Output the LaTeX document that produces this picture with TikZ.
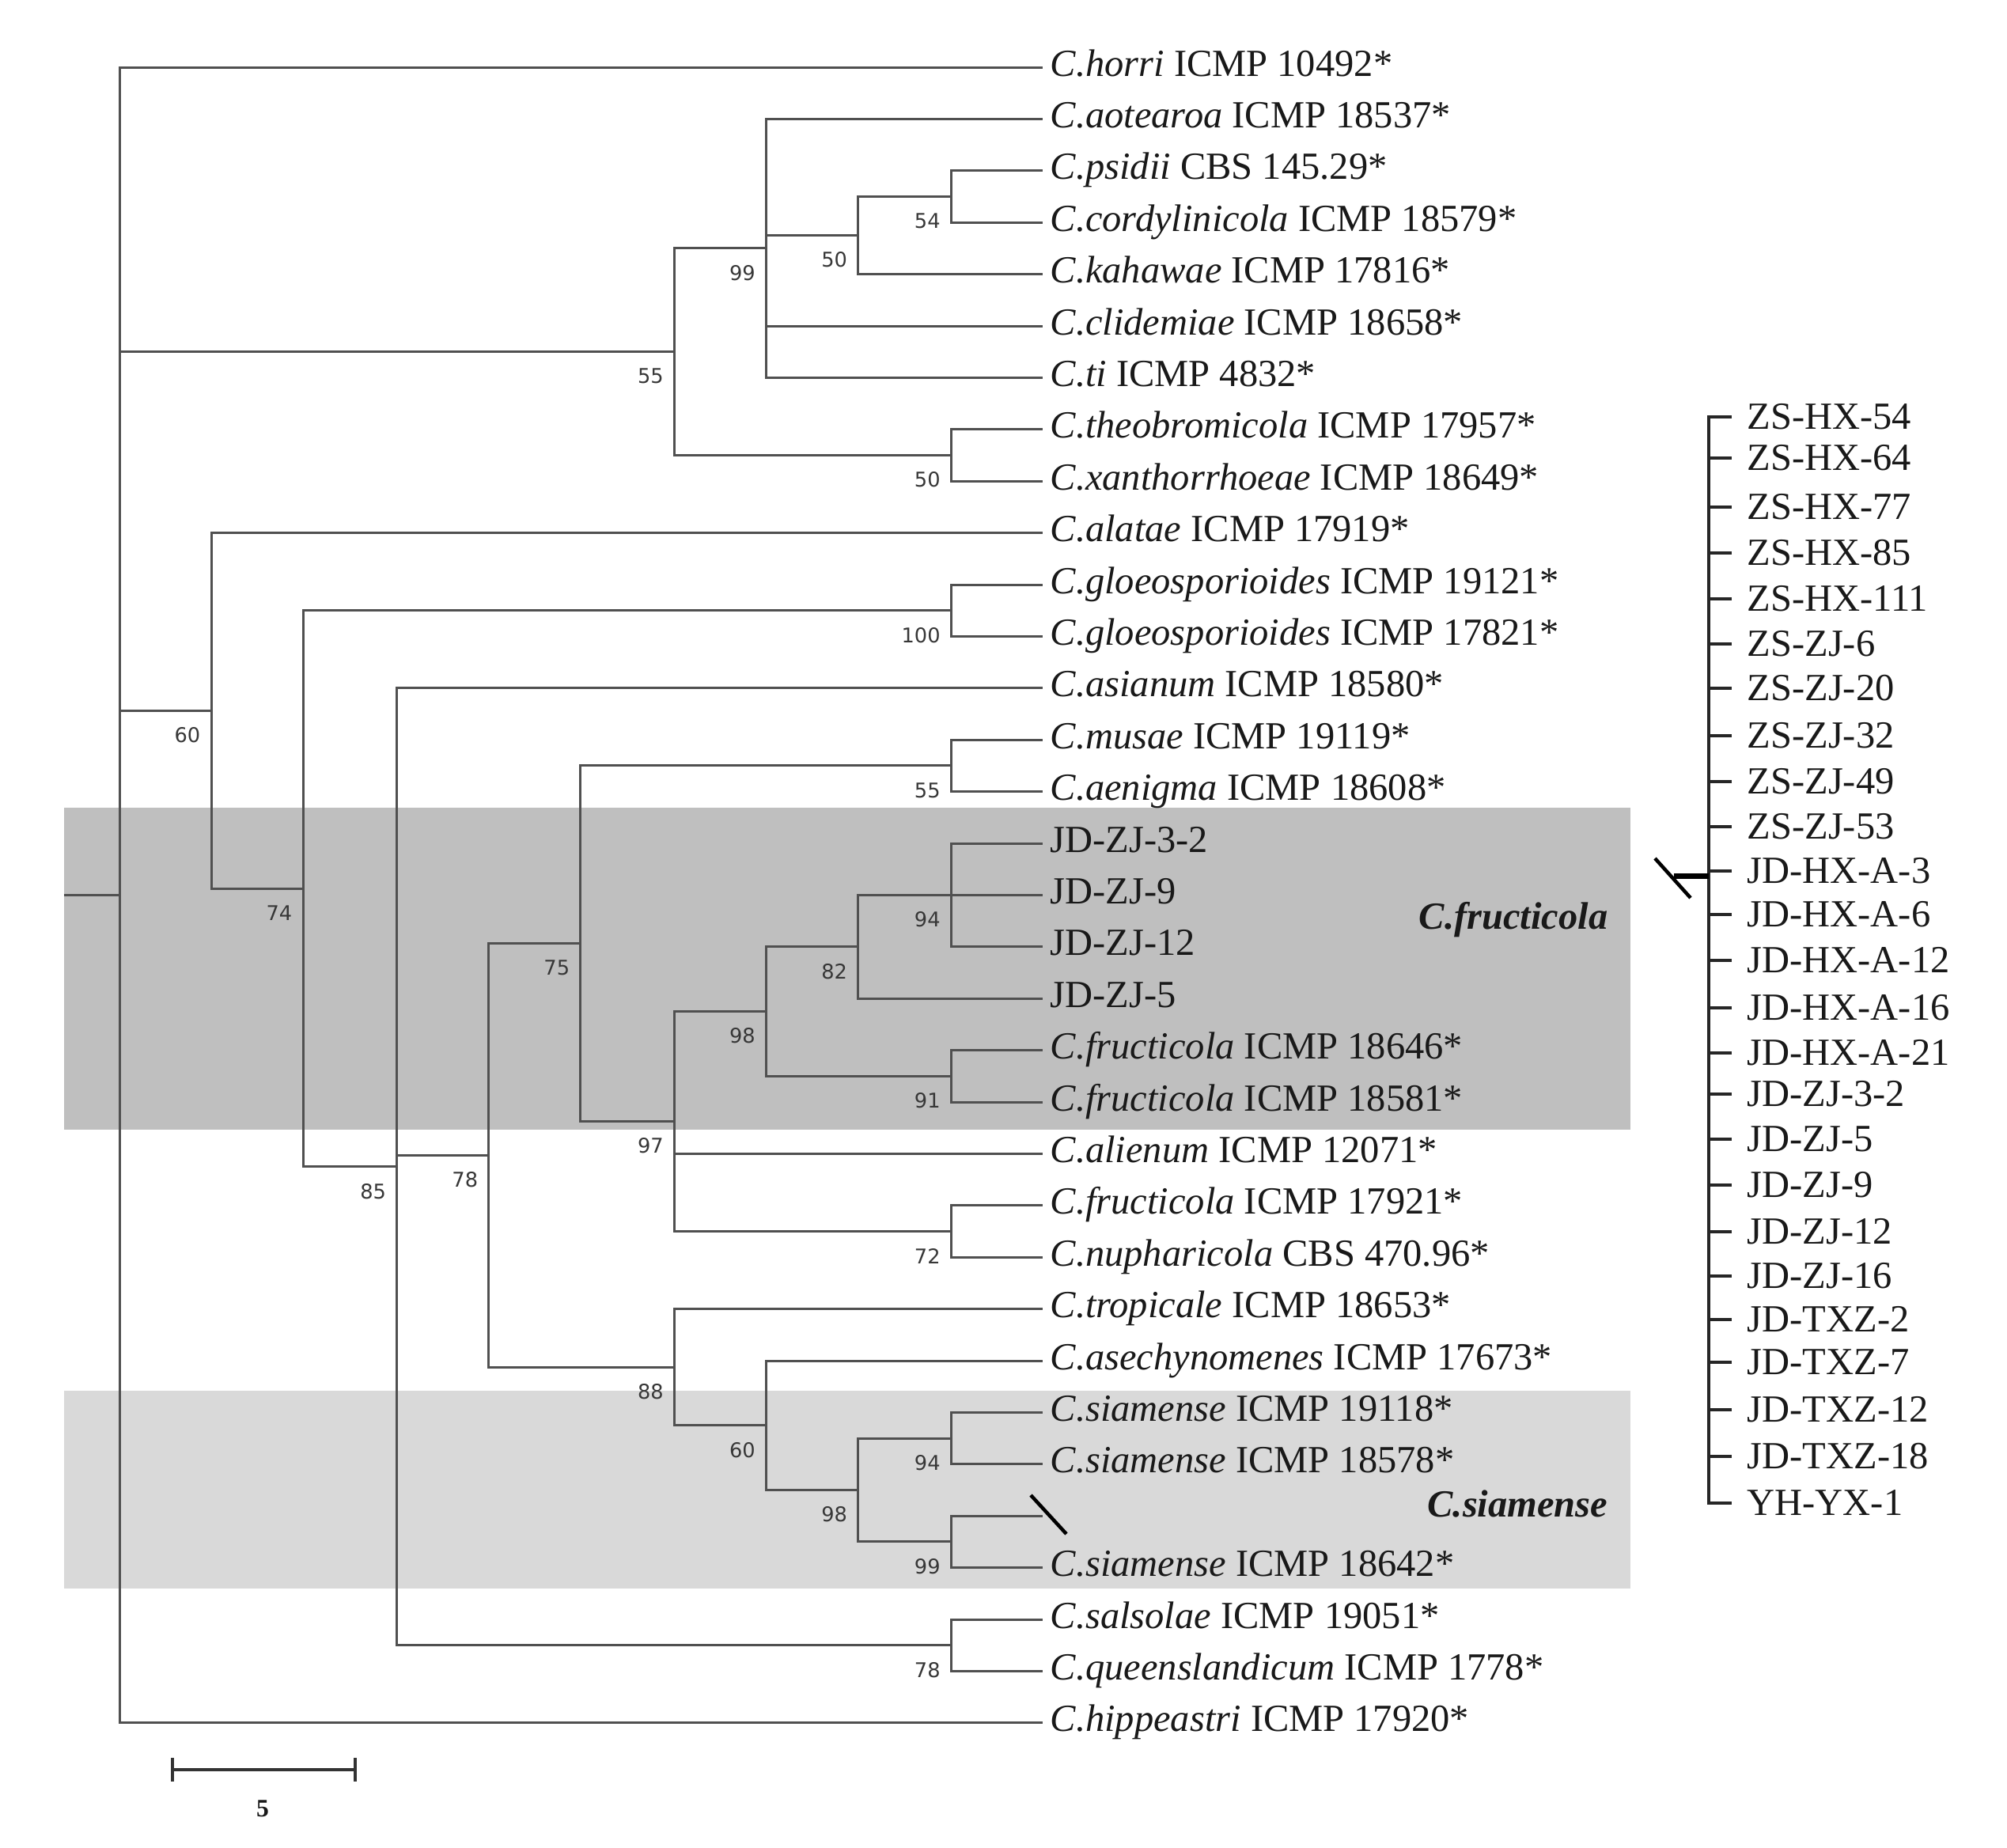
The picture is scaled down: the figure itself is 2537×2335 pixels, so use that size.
\documentclass[tikz,border=0pt]{standalone}
\usepackage{fontspec}
\setmainfont{Liberation Serif}
\newfontfamily\bsfont{DejaVu Sans}
\usetikzlibrary{calc}
\definecolor{treeline}{RGB}{80,80,80}
\definecolor{boxA}{RGB}{191,191,191}
\definecolor{boxB}{RGB}{217,217,217}
\definecolor{bscol}{RGB}{55,55,55}
\definecolor{txt}{RGB}{25,25,25}
\begin{document}
\begin{tikzpicture}[x=0.1mm,y=-0.1mm,
  br/.style={draw=treeline, line width=0.3mm},
  leaf/.style={anchor=west, inner xsep=0.9mm, inner ysep=0, text=txt,
    font=\fontsize{13.8}{16}\selectfont, text height=3.4mm, text depth=1.2mm},
  rl/.style={anchor=west, inner xsep=1.9mm, inner ysep=0, text=txt,
    font=\fontsize{13.8}{16}\selectfont, text height=3.4mm, text depth=0.3mm},
  bs/.style={anchor=east, inner sep=0, text=bscol, font=\bsfont\fontsize{7.3}{8}\selectfont},
  clade/.style={anchor=east, inner sep=0, text=txt, font=\fontsize{13.8}{16}\selectfont\bfseries\itshape},
  spine/.style={draw=black!85, line width=0.34mm},
  cutmark/.style={draw=black, line width=0.45mm},
  scalebar/.style={draw=black!80, line width=0.45mm}
]
\useasboundingbox (0,0) rectangle (2537,2335);
\fill[white] (0,0) rectangle (2537,2335);

% shaded clade boxes
\fill[boxA] (81,1021) rectangle (2061,1428);
\fill[boxB] (81,1758) rectangle (2061,2008);

% internal nodes
\coordinate (rootend) at (81,1131.5);
\coordinate (root) at (151.7,1131.5);
\coordinate (n55) at (852.4,444.7);
\coordinate (n99) at (968.5,313.9);
\coordinate (n50a) at (1084.6,297.6);
\coordinate (n54) at (1202.3,248.5);
\coordinate (n50b) at (1202.3,575.5);
\coordinate (n60) at (267,898.4);
\coordinate (n74) at (383,1123.2);
\coordinate (n100) at (1202.3,771.7);
\coordinate (n85) at (501.7,1474.8);
\coordinate (n78a) at (617.8,1460.4);
\coordinate (n75) at (733.8,1192.7);
\coordinate (n55b) at (1202.3,967.9);
\coordinate (n97) at (852.4,1417.5);
\coordinate (n98a) at (968.5,1278.6);
\coordinate (n82) at (1084.6,1196.8);
\coordinate (n94a) at (1202.3,1131.4);
\coordinate (n91) at (1202.3,1360.3);
\coordinate (n72) at (1202.3,1556.5);
\coordinate (n88) at (852.4,1728.2);
\coordinate (n60b) at (968.5,1801.8);
\coordinate (n98b) at (1084.6,1883.5);
\coordinate (n94b) at (1202.3,1818.1);
\coordinate (n99b) at (1202.3,1948.9);
\coordinate (n78b) at (1202.3,2079.7);
\coordinate (L29) at (1318,1916.2);

% leaves
\node[leaf] (L1)  at (1318,85)     {\textit{C.horri} ICMP 10492*};
\node[leaf] (L2)  at (1318,150.4)  {\textit{C.aotearoa} ICMP 18537*};
\node[leaf] (L3)  at (1318,215.8)  {\textit{C.psidii} CBS 145.29*};
\node[leaf] (L4)  at (1318,281.2)  {\textit{C.cordylinicola} ICMP 18579*};
\node[leaf] (L5)  at (1318,346.6)  {\textit{C.kahawae} ICMP 17816*};
\node[leaf] (L6)  at (1318,412)    {\textit{C.clidemiae} ICMP 18658*};
\node[leaf] (L7)  at (1318,477.4)  {\textit{C.ti} ICMP 4832*};
\node[leaf] (L8)  at (1318,542.8)  {\textit{C.theobromicola} ICMP 17957*};
\node[leaf] (L9)  at (1318,608.2)  {\textit{C.xanthorrhoeae} ICMP 18649*};
\node[leaf] (L10) at (1318,673.6)  {\textit{C.alatae} ICMP 17919*};
\node[leaf] (L11) at (1318,739)    {\textit{C.gloeosporioides} ICMP 19121*};
\node[leaf] (L12) at (1318,804.4)  {\textit{C.gloeosporioides} ICMP 17821*};
\node[leaf] (L13) at (1318,869.8)  {\textit{C.asianum} ICMP 18580*};
\node[leaf] (L14) at (1318,935.2)  {\textit{C.musae} ICMP 19119*};
\node[leaf] (L15) at (1318,1000.6) {\textit{C.aenigma} ICMP 18608*};
\node[leaf] (L16) at (1318,1066)   {JD-ZJ-3-2};
\node[leaf] (L17) at (1318,1131.4) {JD-ZJ-9};
\node[leaf] (L18) at (1318,1196.8) {JD-ZJ-12};
\node[leaf] (L19) at (1318,1262.2) {JD-ZJ-5};
\node[leaf] (L20) at (1318,1327.6) {\textit{C.fructicola} ICMP 18646*};
\node[leaf] (L21) at (1318,1393)   {\textit{C.fructicola} ICMP 18581*};
\node[leaf] (L22) at (1318,1458.4) {\textit{C.alienum} ICMP 12071*};
\node[leaf] (L23) at (1318,1523.8) {\textit{C.fructicola} ICMP 17921*};
\node[leaf] (L24) at (1318,1589.2) {\textit{C.nupharicola} CBS 470.96*};
\node[leaf] (L25) at (1318,1654.6) {\textit{C.tropicale} ICMP 18653*};
\node[leaf] (L26) at (1318,1720)   {\textit{C.asechynomenes} ICMP 17673*};
\node[leaf] (L27) at (1318,1785.4) {\textit{C.siamense} ICMP 19118*};
\node[leaf] (L28) at (1318,1850.8) {\textit{C.siamense} ICMP 18578*};
\node[leaf] (L30) at (1318,1981.6) {\textit{C.siamense} ICMP 18642*};
\node[leaf] (L31) at (1318,2047)   {\textit{C.salsolae} ICMP 19051*};
\node[leaf] (L32) at (1318,2112.4) {\textit{C.queenslandicum} ICMP 1778*};
\node[leaf] (L33) at (1318,2177.8) {\textit{C.hippeastri} ICMP 17920*};

% branches
\draw[br] (rootend) -- (root);
\draw[br] (root) |- (L1.west);
\draw[br] (root) |- (n55);
\draw[br] (root) |- (n60);
\draw[br] (root) |- (L33.west);
\draw[br] (n55) |- (n99);
\draw[br] (n55) |- (n50b);
\draw[br] (n99) |- (L2.west);
\draw[br] (n99) |- (n50a);
\draw[br] (n99) |- (L6.west);
\draw[br] (n99) |- (L7.west);
\draw[br] (n50a) |- (n54);
\draw[br] (n50a) |- (L5.west);
\draw[br] (n54) |- (L3.west);
\draw[br] (n54) |- (L4.west);
\draw[br] (n50b) |- (L8.west);
\draw[br] (n50b) |- (L9.west);
\draw[br] (n60) |- (L10.west);
\draw[br] (n60) |- (n74);
\draw[br] (n74) |- (n100);
\draw[br] (n74) |- (n85);
\draw[br] (n100) |- (L11.west);
\draw[br] (n100) |- (L12.west);
\draw[br] (n85) |- (L13.west);
\draw[br] (n85) |- (n78a);
\draw[br] (n85) |- (n78b);
\draw[br] (n78a) |- (n75);
\draw[br] (n78a) |- (n88);
\draw[br] (n75) |- (n55b);
\draw[br] (n75) |- (n97);
\draw[br] (n55b) |- (L14.west);
\draw[br] (n55b) |- (L15.west);
\draw[br] (n97) |- (n98a);
\draw[br] (n97) |- (L22.west);
\draw[br] (n97) |- (n72);
\draw[br] (n98a) |- (n82);
\draw[br] (n98a) |- (n91);
\draw[br] (n82) |- (n94a);
\draw[br] (n82) |- (L19.west);
\draw[br] (n94a) |- (L16.west);
\draw[br] (n94a) |- (L17.west);
\draw[br] (n94a) |- (L18.west);
\draw[br] (n91) |- (L20.west);
\draw[br] (n91) |- (L21.west);
\draw[br] (n72) |- (L23.west);
\draw[br] (n72) |- (L24.west);
\draw[br] (n88) |- (L25.west);
\draw[br] (n88) |- (n60b);
\draw[br] (n60b) |- (L26.west);
\draw[br] (n60b) |- (n98b);
\draw[br] (n98b) |- (n94b);
\draw[br] (n98b) |- (n99b);
\draw[br] (n94b) |- (L27.west);
\draw[br] (n94b) |- (L28.west);
\draw[br] (n99b) |- (L29);
\draw[br] (n99b) |- (L30.west);
\draw[br] (n78b) |- (L31.west);
\draw[br] (n78b) |- (L32.west);

% cut mark on the empty branch
\coordinate (cutA) at (1303,1890);
\coordinate (cutB) at (1348,1939);
\draw[cutmark] (cutA) -- (cutB);

% bootstrap values
\node[bs] (b55)  at ($(n55)+(-13,31)$)  {55};
\node[bs] (b99)  at ($(n99)+(-13,31)$)  {99};
\node[bs] (b50a) at ($(n50a)+(-13,31)$) {50};
\node[bs] (b54)  at ($(n54)+(-13,31)$)  {54};
\node[bs] (b50b) at ($(n50b)+(-13,31)$) {50};
\node[bs] (b60)  at ($(n60)+(-13,31)$)  {60};
\node[bs] (b74)  at ($(n74)+(-13,31)$)  {74};
\node[bs] (b100) at ($(n100)+(-13,31)$) {100};
\node[bs] (b85)  at ($(n85)+(-13,31)$)  {85};
\node[bs] (b78a) at ($(n78a)+(-13,31)$) {78};
\node[bs] (b75)  at ($(n75)+(-13,31)$)  {75};
\node[bs] (b55b) at ($(n55b)+(-13,31)$) {55};
\node[bs] (b97)  at ($(n97)+(-13,31)$)  {97};
\node[bs] (b98a) at ($(n98a)+(-13,31)$) {98};
\node[bs] (b82)  at ($(n82)+(-13,31)$)  {82};
\node[bs] (b94a) at ($(n94a)+(-13,31)$) {94};
\node[bs] (b91)  at ($(n91)+(-13,31)$)  {91};
\node[bs] (b72)  at ($(n72)+(-13,31)$)  {72};
\node[bs] (b88)  at ($(n88)+(-13,31)$)  {88};
\node[bs] (b60b) at ($(n60b)+(-13,31)$) {60};
\node[bs] (b98b) at ($(n98b)+(-13,31)$) {98};
\node[bs] (b94b) at ($(n94b)+(-13,31)$) {94};
\node[bs] (b99b) at ($(n99b)+(-13,31)$) {99};
\node[bs] (b78b) at ($(n78b)+(-13,31)$) {78};

% clade names
\node[clade] (cfr) at (2033,1163) {C.fructicola};
\node[clade] (csi) at (2033,1901) {C.siamense};

% scale bar
\coordinate (sbL) at (218,2237);
\coordinate (sbR) at (449,2237);
\draw[scalebar] (sbL) -- (sbR);
\draw[scalebar] ($(sbL)+(0,-15)$) -- ($(sbL)+(0,15)$);
\draw[scalebar] ($(sbR)+(0,-15)$) -- ($(sbR)+(0,15)$);
\node[inner sep=0, text=txt, font=\fontsize{9}{10}\selectfont\bfseries] (sblab) at (332,2286) {5};

% isolate list
\coordinate (spx) at (2160,0);
\node[rl] (R1)  at (2189,527)  {ZS-HX-54};
\node[rl] (R2)  at (2189,579)  {ZS-HX-64};
\node[rl] (R3)  at (2189,641)  {ZS-HX-77};
\node[rl] (R4)  at (2189,699)  {ZS-HX-85};
\node[rl] (R5)  at (2189,757)  {ZS-HX-111};
\node[rl] (R6)  at (2189,814)  {ZS-ZJ-6};
\node[rl] (R7)  at (2189,870)  {ZS-ZJ-20};
\node[rl] (R8)  at (2189,930)  {ZS-ZJ-32};
\node[rl] (R9)  at (2189,988)  {ZS-ZJ-49};
\node[rl] (R10) at (2189,1045) {ZS-ZJ-53};
\node[rl] (R11) at (2189,1101) {JD-HX-A-3};
\node[rl] (R12) at (2189,1156) {JD-HX-A-6};
\node[rl] (R13) at (2189,1214) {JD-HX-A-12};
\node[rl] (R14) at (2189,1274) {JD-HX-A-16};
\node[rl] (R15) at (2189,1331) {JD-HX-A-21};
\node[rl] (R16) at (2189,1383) {JD-ZJ-3-2};
\node[rl] (R17) at (2189,1440) {JD-ZJ-5};
\node[rl] (R18) at (2189,1498) {JD-ZJ-9};
\node[rl] (R19) at (2189,1557) {JD-ZJ-12};
\node[rl] (R20) at (2189,1613) {JD-ZJ-16};
\node[rl] (R21) at (2189,1668) {JD-TXZ-2};
\node[rl] (R22) at (2189,1722) {JD-TXZ-7};
\node[rl] (R23) at (2189,1782) {JD-TXZ-12};
\node[rl] (R24) at (2189,1841) {JD-TXZ-18};
\node[rl] (R25) at (2189,1900) {YH-YX-1};
\draw[spine] (R1.west) -- (R1.west -| spx) -- (R25.west -| spx) -- (R25.west);
\foreach \r in {R2,R3,R4,R5,R6,R7,R8,R9,R10,R11,R12,R13,R14,R15,R16,R17,R18,R19,R20,R21,R22,R23,R24}
  \draw[spine] (\r.west) -- (\r.west -| spx);

% attachment mark of the list
\coordinate (atA) at (2116,1107.5);
\coordinate (atB) at ($(R11.west -| spx)+(0,6.5)$);
\draw[draw=black, line width=0.65mm] (atA) -- (atB);
\coordinate (slA) at (2092,1085);
\coordinate (slB) at (2137,1135);
\draw[cutmark] (slA) -- (slB);
\end{tikzpicture}
\end{document}
